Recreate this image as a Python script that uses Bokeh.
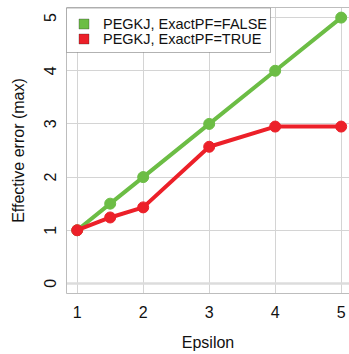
from bokeh.plotting import figure
from bokeh.models import Range1d, FixedTicker, LinearAxis, Span, BoxAnnotation, Label
from bokeh.embed import file_html
from bokeh.resources import INLINE

# Effective error (max) against epsilon for the two ExactPF settings
epsilon = [1, 1.5, 2, 3, 4, 5]
err_exact_false = [1, 1.5, 2, 3, 4, 5]
err_exact_true = [1, 1.24, 1.43, 2.57, 2.95, 2.95]

series_labels = ["PEGKJ, ExactPF=FALSE", "PEGKJ, ExactPF=TRUE"]
x_ticks = [1, 2, 3, 4, 5]
y_ticks = [0, 1, 2, 3, 4, 5]

GREEN = "#6cbd45"
RED = "#ec2029"
GRID = "#d4d4d4"
BORDER = "#bdbdbd"
FONT = "Liberation Sans"

FRAME_H = 286  # plot-area height in pixels

p = figure(
    width=349, height=354,
    x_range=Range1d(0.838, 5.126), y_range=Range1d(-0.19, 5.19),
    output_backend="svg", toolbar_location=None,
    min_border_left=66, min_border_right=0, min_border_top=7, min_border_bottom=61,
)
p.outline_line_color = None
p.background_fill_color = "white"
p.border_fill_color = "white"

# grid
p.xgrid.ticker = FixedTicker(ticks=x_ticks)
p.ygrid.ticker = FixedTicker(ticks=y_ticks)
for g in (p.xgrid, p.ygrid):
    g.grid_line_color = GRID
    g.grid_line_width = 1
p.add_layout(Span(location=0, dimension="width", line_color="#dcdcdc", line_width=2.5, level="underlay"))

# axes
p.xaxis.ticker = FixedTicker(ticks=x_ticks)
p.yaxis.ticker = FixedTicker(ticks=y_ticks)
for ax in (p.xaxis, p.yaxis):
    ax.major_tick_line_color = None
    ax.minor_tick_line_color = None
    ax.major_tick_out = 0
    ax.major_tick_in = 0
    ax.axis_line_color = BORDER
    ax.axis_line_width = 1
    ax.major_label_text_font = FONT
    ax.major_label_text_font_size = "16px"
    ax.major_label_text_color = "#111111"
    ax.axis_label_text_font = FONT
    ax.axis_label_text_font_size = "16px"
    ax.axis_label_text_font_style = "normal"
    ax.axis_label_text_color = "#111111"
p.xaxis.axis_label = "Epsilon"
p.yaxis.axis_label = "Effective error (max)"
p.yaxis.major_label_orientation = "vertical"
p.xaxis.major_label_standoff = 12
p.xaxis.axis_label_standoff = 13
p.yaxis.major_label_standoff = 10
p.yaxis.axis_label_standoff = 15

top_axis = LinearAxis(ticker=FixedTicker(ticks=[]), axis_line_color=BORDER,
                      major_tick_line_color=None, minor_tick_line_color=None,
                      major_label_text_font_size="0px")
p.add_layout(top_axis, "above")

# series
p.line(epsilon, err_exact_false, line_color=GREEN, line_width=4)
p.scatter(epsilon, err_exact_false, size=11, fill_color=GREEN, line_color=GREEN)
p.line(epsilon, err_exact_true, line_color=RED, line_width=4)
p.scatter(epsilon, err_exact_true, size=11, fill_color=RED, line_color=RED)


# legend, laid out in pixels from the top-left corner of the plot area
def sy(px_from_top):
    return FRAME_H - px_from_top


def sbox(left, right, top, bottom, **kw):
    return BoxAnnotation(left=left, right=right, top=sy(top), bottom=sy(bottom),
                         left_units="screen", right_units="screen",
                         top_units="screen", bottom_units="screen", **kw)


p.add_layout(sbox(0, 204, 0.5, 45, fill_color="white", fill_alpha=1,
                  line_color="black", line_width=1, level="overlay"))
for i, (lab, col) in enumerate(zip(series_labels, [GREEN, RED])):
    top = 11.5 + 15 * i
    p.add_layout(sbox(12.5, 22.5, top, top + 10, fill_color=col, fill_alpha=1,
                      line_color="#222222", line_width=1, level="overlay"))
    p.add_layout(Label(x=36.5, y=sy(top + 5), x_units="screen", y_units="screen",
                       text=lab, text_font=FONT, text_font_size="14.5px",
                       text_color="#111111", text_baseline="middle", level="overlay"))

open("out.html", "w").write(file_html(p, INLINE))
